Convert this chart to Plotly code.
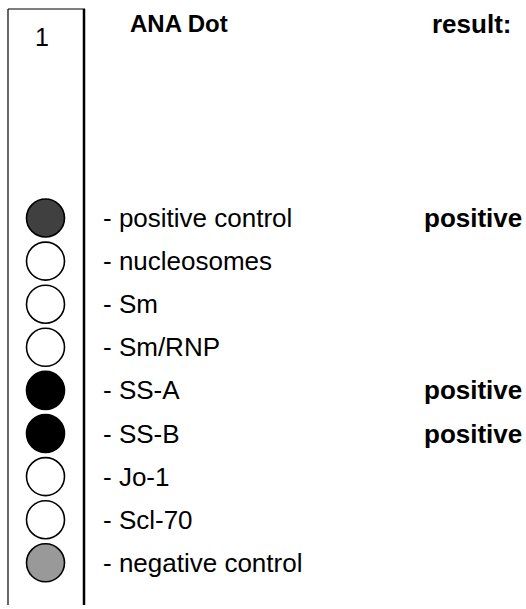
import plotly.graph_objects as go

# ---- data ----
antigens = ["positive control", "nucleosomes", "Sm", "Sm/RNP", "SS-A",
            "SS-B", "Jo-1", "Scl-70", "negative control"]
# dot darkness (0 = white, 1 = black)
reactivity = [0.75, 0.0, 0.0, 0.0, 1.0, 1.0, 0.0, 0.0, 0.4]
results = ["positive", "", "", "", "positive", "positive", "", "", ""]
strip_number = "1"
header_title = "ANA Dot"
header_result = "result:"

W, H = 526, 609
FONT = "Arial, Liberation Sans, sans-serif"
row_top_px = 218.0
row_step_px = 43.1

rows = list(range(len(antigens)))

fig = go.Figure()
fig.add_trace(go.Scatter(
    x=[45.5] * len(rows), y=rows, mode="markers",
    marker=dict(size=38, color=reactivity, cmin=0, cmax=1,
                colorscale=[[0, "#ffffff"], [1, "#000000"]],
                line=dict(color="black", width=1.6)),
    hoverinfo="skip", showlegend=False,
))

ann = []
for i, name in enumerate(antigens):
    ann.append(dict(x=101, y=i, xref="x", yref="y", text="- " + name,
                    showarrow=False, xanchor="left", yanchor="middle",
                    font=dict(family=FONT, size=26, color="black")))
    if results[i]:
        ann.append(dict(x=422, y=i, xref="x", yref="y", text="<b>" + results[i] + "</b>",
                        showarrow=False, xanchor="left", yanchor="middle",
                        font=dict(family=FONT, size=26, color="black")))

def py(p):
    return 1 - p / H

ann.append(dict(x=42, y=py(37), xref="x", yref="paper", text=strip_number,
                showarrow=False, xanchor="center", yanchor="middle",
                font=dict(family=FONT, size=25, color="black")))
ann.append(dict(x=128, y=py(24), xref="x", yref="paper", text="<b>" + header_title + "</b>",
                showarrow=False, xanchor="left", yanchor="middle",
                font=dict(family=FONT, size=24, color="black")))
ann.append(dict(x=430, y=py(24), xref="x", yref="paper", text="<b>" + header_result + "</b>",
                showarrow=False, xanchor="left", yanchor="middle",
                font=dict(family=FONT, size=26, color="black")))

shapes = [
    dict(type="line", xref="x", yref="paper", x0=8, x1=8, y0=py(605), y1=py(9),
         line=dict(color="black", width=1.2)),
    dict(type="line", xref="x", yref="paper", x0=84, x1=84, y0=py(605), y1=py(9),
         line=dict(color="black", width=2.5)),
    dict(type="line", xref="x", yref="paper", x0=8, x1=85, y0=py(9), y1=py(9),
         line=dict(color="black", width=1.2)),
]

y0 = -row_top_px / row_step_px
y1 = (H - row_top_px) / row_step_px
fig.update_layout(
    width=W, height=H, margin=dict(l=0, r=0, t=0, b=0),
    paper_bgcolor="white", plot_bgcolor="white",
    xaxis=dict(range=[0, W], visible=False, fixedrange=True),
    yaxis=dict(range=[y1, y0], visible=False, fixedrange=True),
    annotations=ann, shapes=shapes, showlegend=False,
)
fig.write_html("out.html", config={"displayModeBar": False},
               post_script="document.body.style.margin='0';document.body.style.overflow='hidden';")
